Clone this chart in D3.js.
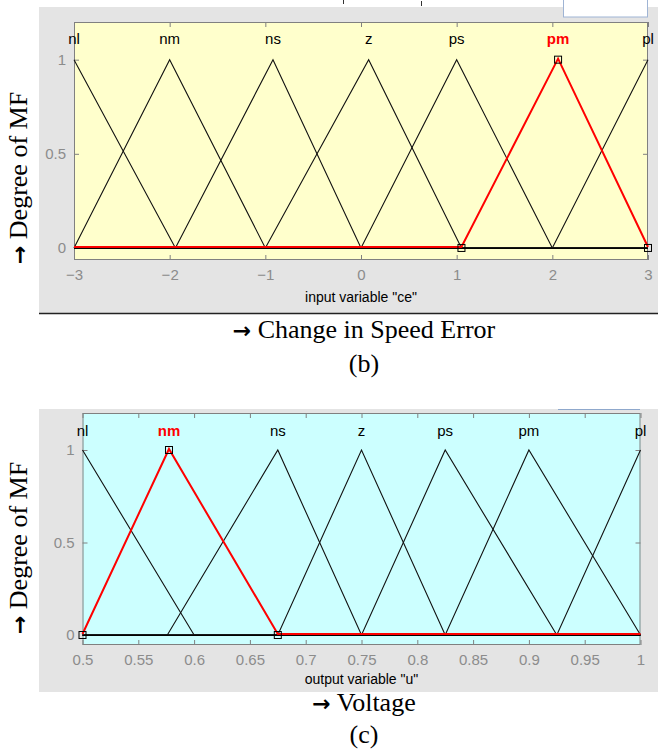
<!DOCTYPE html>
<html><head><meta charset="utf-8">
<script src="https://cdn.jsdelivr.net/npm/d3@7/dist/d3.min.js"></script>
<style>body{margin:0;background:#fff}svg{display:block}</style>
</head><body>
<script>
// ---- data ----
const mfLabels = ["nl","nm","ns","z","ps","pm","pl"];
const ceParams = [[-4,-3,-1.94],[-3,-2,-1],[-1.94,-0.92,0],[-1,0.08,1.05],[0,1,2],[1.05,2.06,3],[2,3,4]];
const ceTicks = [-3,-2,-1,0,1,2,3];
const ceSelected = 5;
const uParams = [[0.4,0.5,0.6],[0.5,0.5775,0.675],[0.576,0.675,0.75],[0.675,0.75,0.825],[0.75,0.825,0.925],[0.825,0.9,1.0],[0.925,1.0,1.1]];
const uTicks = [0.5,0.55,0.6,0.65,0.7,0.75,0.8,0.85,0.9,0.95,1];
const uSelected = 1;
const yTicks = [0,0.5,1];

const W = 658, H = 749;
const svg = d3.select("body").append("svg").attr("width", W).attr("height", H);
const sans = "Liberation Sans, Arial, sans-serif";
const serif = "Liberation Serif, Times New Roman, serif";
const FS = 15;

function trimf(x, p){
  const [a,b,c] = p;
  if (x <= a || x >= c) return (x===b)?1:0;
  if (x <= b) return (x-a)/(b-a);
  return (c-x)/(c-b);
}

function arrowText(sel, rest){
  sel.append("tspan").attr("font-family","DejaVu Sans, sans-serif").attr("font-weight","bold")
    .attr("font-size", 22).text("\u2192");
  sel.append("tspan").attr("font-family", serif).attr("font-size", 26).text(" " + rest);
}

function drawPanel(cfg){
  const g = svg.append("g");
  g.append("rect").attr("x", cfg.panel[0]).attr("y", cfg.panel[1])
    .attr("width", cfg.panel[2]-cfg.panel[0]).attr("height", cfg.panel[3]-cfg.panel[1]).attr("fill", "#e4e4e4");
  const x = d3.scaleLinear().domain(cfg.xDomain).range([cfg.plot[0], cfg.plot[2]]);
  const y = d3.scaleLinear().domain(cfg.yDomain).range([cfg.plot[3], cfg.plot[1]]);
  g.append("rect").attr("x", cfg.plot[0]).attr("y", cfg.plot[1])
    .attr("width", cfg.plot[2]-cfg.plot[0]).attr("height", cfg.plot[3]-cfg.plot[1])
    .attr("fill", cfg.bg).attr("stroke", "none");
  const axB = d3.axisBottom(x).tickValues(cfg.ticks).tickSize(-5).tickPadding(9).tickFormat(cfg.fmt);
  const axT = d3.axisTop(x).tickValues(cfg.ticks).tickSize(-5).tickFormat("");
  const axL = d3.axisLeft(y).tickValues(yTicks).tickSize(-5).tickPadding(8).tickFormat(d3.format("~g"));
  const axR = d3.axisRight(y).tickValues(yTicks).tickSize(-5).tickFormat("");
  const style = s => { s.select(".domain").remove(); s.selectAll("line").attr("stroke", "#808080");
    s.selectAll("text").attr("fill", "#8c8c8c").attr("font-family", sans).attr("font-size", FS); };
  g.append("g").attr("transform", `translate(0,${cfg.plot[3]})`).call(axB).call(style);
  g.append("g").attr("transform", `translate(0,${cfg.plot[1]})`).call(axT).call(style);
  g.append("g").attr("transform", `translate(${cfg.plot[0]},0)`).call(axL).call(style);
  g.append("g").attr("transform", `translate(${cfg.plot[2]},0)`).call(axR).call(style);
  g.append("rect").attr("x", cfg.plot[0]+0.5).attr("y", cfg.plot[1]+0.5)
    .attr("width", cfg.plot[2]-cfg.plot[0]-1).attr("height", cfg.plot[3]-cfg.plot[1]-1)
    .attr("fill", "none").attr("stroke", "#808080");
  const [x0,x1] = cfg.xDomain;
  const line = d3.line().x(d=>x(d[0])).y(d=>y(d[1]));
  const pts = p => {
    const xs = Array.from(new Set([x0, ...p, x1])).filter(v=>v>=x0 && v<=x1).sort((a,b)=>a-b);
    return xs.map(v=>[v, trimf(v,p)]);
  };
  cfg.params.forEach((p,i) => {
    if (i === cfg.selected) return;
    g.append("path").attr("d", line(pts(p))).attr("fill","none").attr("stroke","#111").attr("stroke-width",1.1);
  });
  const sp = cfg.params[cfg.selected];
  g.append("path").attr("d", line(pts(sp))).attr("fill","none").attr("stroke","#ff0000").attr("stroke-width",2)
    .attr("transform","translate(0,-1)");
  g.append("line").attr("x1", x(x0)).attr("x2", x(x1)).attr("y1", y(0)+0.5).attr("y2", y(0)+0.5)
    .attr("stroke","#000").attr("stroke-width",1).attr("opacity",0.85);
  g.selectAll(".sq").data([[sp[0],0],[sp[1],1],[sp[2],0]].filter(d=>d[0]>=x0 && d[0]<=x1)).enter()
    .append("rect").attr("x", d=>x(d[0])-3.5).attr("y", d=>y(d[1])-3.5).attr("width",7).attr("height",7)
    .attr("fill","none").attr("stroke","#000").attr("stroke-width",1);
  cfg.params.forEach((p,i) => {
    const px = Math.min(Math.max(p[1], x0), x1);
    g.append("text").attr("x", x(px)).attr("y", cfg.labelY).attr("text-anchor","middle")
      .attr("dominant-baseline","middle").attr("font-family", sans).attr("font-size", FS)
      .attr("font-weight", i===cfg.selected ? "bold" : "normal")
      .attr("fill", i===cfg.selected ? "#ff0000" : "#000").text(mfLabels[i]);
  });
  g.append("text").attr("x", (cfg.plot[0]+cfg.plot[2])/2).attr("y", cfg.axisLabelY).attr("text-anchor","middle")
    .attr("dominant-baseline","middle").attr("font-family", sans).attr("font-size", 14).attr("fill","#000")
    .text(cfg.axisLabel);
  svg.append("text").attr("transform", `translate(${cfg.yTitle[0]},${cfg.yTitle[1]}) rotate(-90)`)
    .attr("text-anchor","middle").attr("dominant-baseline","middle").attr("fill","#000")
    .call(arrowText, "Degree of MF");
  svg.append("text").attr("x", 364).attr("y", cfg.capY).attr("text-anchor","middle").attr("dominant-baseline","middle")
    .attr("fill","#000").call(arrowText, cfg.caption);
  svg.append("text").attr("x", 364).attr("y", cfg.subY).attr("text-anchor","middle").attr("dominant-baseline","middle")
    .attr("font-family", serif).attr("font-size", 26).attr("fill","#000").text(cfg.sub);
}

drawPanel({
  panel:[39,7,658,313], plot:[74,22,648,260], xDomain:[-3,3], yDomain:[-0.064,1.2],
  ticks: ceTicks, fmt: d3.format("d"), bg:"#ffffcc", params: ceParams, selected: ceSelected,
  labelY: 40, axisLabel: 'input variable "ce"', axisLabelY: 298,
  yTitle:[21,178], caption:"Change in Speed Error", capY:332, sub:"(b)", subY:366
});
svg.append("line").attr("x1",39).attr("x2",658).attr("y1",313.5).attr("y2",313.5).attr("stroke","#222").attr("stroke-width",1.5);
// GUI remnants at top
svg.append("rect").attr("x", 563.5).attr("y", -2).attr("width", 84).attr("height", 19)
  .attr("fill", "#fff").attr("stroke", "#9fb4d4");
svg.append("line").attr("x1",343.5).attr("x2",343.5).attr("y1",0).attr("y2",4).attr("stroke","#333");
svg.append("line").attr("x1",421.5).attr("x2",421.5).attr("y1",1).attr("y2",6).attr("stroke","#333");

drawPanel({
  panel:[39,409,658,692], plot:[82.5,413,640.5,645], xDomain:[0.5,1], yDomain:[-0.054,1.2],
  ticks: uTicks, fmt: d3.format("~g"), bg:"#ccffff", params: uParams, selected: uSelected,
  labelY: 432, axisLabel: 'output variable "u"', axisLabelY: 680,
  yTitle:[21,548], caption:"Voltage", capY:705, sub:"(c)", subY:737
});
svg.append("line").attr("x1",558).attr("x2",640).attr("y1",409.5).attr("y2",409.5).attr("stroke","#8fa8cc").attr("stroke-width",1);
</script>
</body></html>
